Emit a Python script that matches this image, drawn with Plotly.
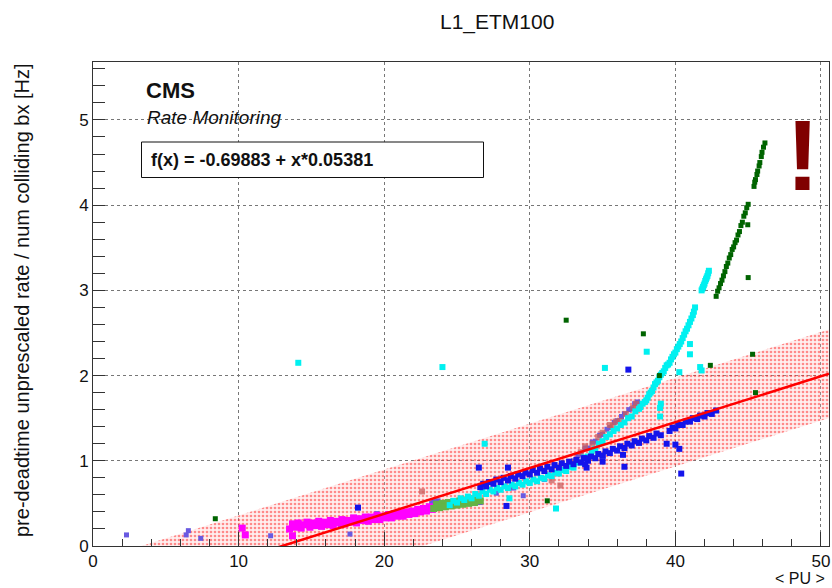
import plotly.graph_objects as go

# ---- fit result shown in the legend box ----
FIT_P0 = -0.69883
FIT_P1 = 0.05381
BAND_HALF_WIDTH = 0.52
X_MAX = 50.55
Y_MAX = 5.68

# ---- run groups: <PU> vs rate per colliding bunch ----
magenta_pu = [13.5, 13.7, 13.9, 14.1, 14.3, 14.5, 14.7, 14.9, 15.1, 15.3, 15.5, 15.7, 15.9,
              16.1, 16.3, 16.5, 16.7, 16.9, 17.1, 17.3, 17.5, 17.7, 17.9, 18.1, 18.3, 18.5,
              18.7, 18.9, 19.1, 19.3, 19.5, 19.7, 19.9, 20.1, 20.3, 20.5, 20.7, 20.9, 21.1,
              21.3, 21.5, 21.7, 21.9, 22.1, 22.3, 22.5, 22.7, 22.9, 23.1, 23.3,
              10.25, 10.46, 13.7]
magenta_rate = [0.20, 0.26, 0.22, 0.27, 0.21, 0.25, 0.28, 0.22, 0.27, 0.24, 0.29, 0.23, 0.28,
                0.25, 0.30, 0.24, 0.29, 0.27, 0.31, 0.26, 0.30, 0.28, 0.33, 0.27, 0.32, 0.30,
                0.34, 0.29, 0.34, 0.31, 0.36, 0.31, 0.35, 0.33, 0.37, 0.33, 0.38, 0.35, 0.39,
                0.35, 0.40, 0.37, 0.41, 0.38, 0.43, 0.40, 0.44, 0.41, 0.46, 0.43,
                0.21, 0.13, 0.12]

green_pu = [23.4, 23.6, 23.8, 24.0, 24.2, 24.4, 24.6, 24.8, 25.0, 25.2, 25.4, 25.6, 25.8,
            26.0, 26.2, 26.4, 26.6]
green_rate = [0.44, 0.49, 0.45, 0.50, 0.46, 0.51, 0.47, 0.52, 0.48, 0.53, 0.49, 0.54, 0.50,
              0.55, 0.51, 0.56, 0.53]

violet_pu = [2.3, 6.4, 6.55, 7.4, 12.2, 17.65, 17.0, 19.5, 21.1, 23.26, 23.7, 23.4, 24.5,
             24.7, 26.4, 26.6, 27.7, 28.6, 28.9, 29.55, 31.0, 32.3,
             33.0, 33.3, 33.5, 33.8, 34.0, 34.3, 34.5, 34.8, 35.0, 35.3, 35.5, 35.8, 36.0,
             36.3, 36.5, 36.8, 37.0, 37.2, 37.4]
violet_rate = [0.13, 0.13, 0.18, 0.09, 0.12, 0.14, 0.25, 0.38, 0.38, 0.50, 0.53, 0.52, 0.52,
               0.52, 0.52, 0.51, 0.62, 0.68, 0.68, 0.59, 0.78, 0.90,
               1.00, 1.06, 1.08, 1.15, 1.15, 1.22, 1.23, 1.30, 1.31, 1.37, 1.39, 1.45, 1.47,
               1.52, 1.55, 1.60, 1.61, 1.67, 1.69]

cyan_pu = [24.5, 24.75, 25.0, 25.25, 25.5, 25.75, 26.0, 26.25, 26.5, 26.75, 27.0, 27.25,
           27.5, 27.75, 28.0, 28.25, 28.5, 28.75, 29.0, 29.25, 29.5, 29.75, 30.0, 30.25,
           30.5, 30.75, 31.0, 31.25, 31.5, 31.75, 32.0, 32.25, 32.5, 32.75, 33.0, 33.25,
           33.5, 33.75, 34.0, 34.25, 34.5, 34.75, 35.0, 35.25, 35.5, 35.75, 36.0, 36.25,
           36.5, 36.75, 37.0, 37.25, 37.5, 37.75, 38.0, 38.2, 38.4, 38.6, 38.8, 39.0,
           39.2, 39.4, 39.6, 39.8, 40.0, 40.2, 40.4, 40.6, 40.8, 41.0, 41.2, 41.35,
           37.6, 37.9, 38.1, 38.3, 38.5, 38.7, 38.9, 39.1, 39.3, 39.5, 39.7, 39.9,
           40.1, 40.3, 40.5, 40.7, 40.9, 41.1, 41.27,
           41.8, 41.85, 41.9, 41.95, 42.0, 42.05, 42.1, 42.15, 42.2, 42.25, 42.3,
           14.1, 24.0, 26.9, 28.6, 31.8, 35.16, 38.03, 41.0, 41.0, 40.27, 41.7, 39.0,
           38.95, 38.95, 41.8]
cyan_rate = [0.48, 0.53, 0.51, 0.56, 0.54, 0.58, 0.56, 0.61, 0.59, 0.64, 0.61, 0.66,
             0.64, 0.68, 0.66, 0.70, 0.68, 0.72, 0.70, 0.74, 0.72, 0.76, 0.74, 0.78,
             0.76, 0.80, 0.79, 0.83, 0.82, 0.86, 0.85, 0.89, 0.88, 0.93, 0.92, 0.98,
             0.98, 1.04, 1.05, 1.11, 1.14, 1.20, 1.23, 1.28, 1.31, 1.35, 1.38, 1.42,
             1.45, 1.50, 1.52, 1.58, 1.61, 1.67, 1.71, 1.78, 1.82, 1.90, 1.94, 2.01,
             2.05, 2.12, 2.15, 2.22, 2.27, 2.34, 2.40, 2.48, 2.55, 2.63, 2.71, 2.80,
             1.63, 1.69, 1.74, 1.80, 1.86, 1.92, 1.98, 2.03, 2.09, 2.13, 2.19, 2.25,
             2.31, 2.37, 2.44, 2.52, 2.59, 2.67, 2.75,
             3.00, 3.02, 3.04, 3.06, 3.08, 3.11, 3.13, 3.15, 3.17, 3.20, 3.23,
             2.15, 2.10, 1.20, 0.56, 0.44, 2.09, 2.28, 2.37, 2.25, 2.04, 2.10, 1.67,
             1.52, 1.62, 2.06]

blue_pu = [26.6, 26.8, 27.0, 27.2, 27.5, 27.7, 28.0, 28.2, 28.5, 28.7, 29.0, 29.2, 29.5,
           29.7, 30.0, 30.2, 30.5, 30.7, 31.0, 31.2, 31.5, 31.7, 32.0, 32.2, 32.5, 32.7,
           33.0, 33.2, 33.5, 33.7, 34.0, 34.2, 34.5, 34.7, 35.0, 35.2, 35.5, 35.7, 36.0,
           36.2, 36.5, 36.7, 37.0, 37.2, 37.5, 37.7, 38.0, 38.2, 38.5, 38.7, 39.0,
           39.6, 39.8, 40.0, 40.2, 40.5, 40.7, 41.0, 41.2, 41.5, 41.7, 42.0, 42.2, 42.5,
           42.8,
           18.2, 26.5, 28.5, 28.4, 33.9, 33.8, 33.8, 35.0, 35.0, 36.77, 39.4, 40.0, 40.27,
           36.5, 40.4, 36.4]
blue_rate = [0.69, 0.73, 0.70, 0.75, 0.73, 0.78, 0.75, 0.80, 0.77, 0.82, 0.79, 0.84, 0.82,
             0.86, 0.84, 0.89, 0.86, 0.91, 0.88, 0.93, 0.90, 0.95, 0.92, 0.97, 0.94, 0.99,
             0.96, 1.01, 0.98, 1.03, 1.00, 1.05, 1.03, 1.08, 1.06, 1.11, 1.09, 1.14, 1.12,
             1.17, 1.15, 1.20, 1.18, 1.23, 1.21, 1.26, 1.24, 1.29, 1.27, 1.32, 1.30,
             1.35, 1.39, 1.38, 1.42, 1.42, 1.46, 1.46, 1.50, 1.49, 1.53, 1.52, 1.56, 1.55,
             1.59,
             0.45, 0.92, 0.92, 0.47, 0.92, 0.96, 1.03, 0.99, 1.06, 2.07, 1.20, 1.19, 1.14,
             0.93, 0.85, 1.07]

darkgreen_pu = [42.8, 42.9, 43.0, 43.1, 43.2, 43.3, 43.4, 43.5, 43.6, 43.7, 43.8, 43.9,
                44.0, 44.1, 44.2, 44.3, 44.4, 44.5, 44.6, 44.7, 44.8, 44.9, 45.0,
                45.4, 45.45, 45.5, 45.6, 45.65, 45.75, 45.8, 45.9, 45.95, 46.05, 46.15,
                8.4, 31.2, 32.5, 37.8, 38.9, 42.4, 44.97, 45.0, 45.3, 45.5]
darkgreen_rate = [2.93, 2.99, 3.03, 3.08, 3.12, 3.17, 3.22, 3.28, 3.32, 3.38, 3.42, 3.48,
                  3.51, 3.56, 3.59, 3.65, 3.69, 3.76, 3.80, 3.87, 3.91, 3.97, 4.01,
                  4.22, 4.27, 4.30, 4.36, 4.40, 4.46, 4.50, 4.57, 4.62, 4.68, 4.73,
                  0.32, 0.53, 2.65, 2.49, 2.00, 2.12, 3.77, 3.15, 2.25, 1.80]

brown_pu = [22.6, 31.5, 32.1, 33.0, 33.5, 33.8, 34.3, 34.7, 35.0, 35.5, 35.7, 35.9, 36.2,
            36.6, 37.1, 37.3]
brown_rate = [0.64, 0.77, 0.71, 0.98, 1.10, 1.17, 1.20, 1.28, 1.33, 1.42, 1.40, 1.46, 1.47,
              1.55, 1.62, 1.67]

series = [
    (violet_pu, violet_rate, "rgb(105,90,225)", 5),
    (magenta_pu, magenta_rate, "rgb(255,0,255)", 7),
    (green_pu, green_rate, "rgb(100,180,70)", 7),
    (brown_pu, brown_rate, "rgba(200,95,95,0.75)", 6),
    (cyan_pu, cyan_rate, "rgb(0,240,240)", 6),
    (blue_pu, blue_rate, "rgb(20,20,235)", 6),
    (darkgreen_pu, darkgreen_rate, "rgb(0,100,0)", 5),
]

fig = go.Figure()

# shaded band around the linear fit
band_x = [0.0, X_MAX]
upper = [FIT_P0 + FIT_P1 * x + BAND_HALF_WIDTH for x in band_x]
lower = [FIT_P0 + FIT_P1 * x - BAND_HALF_WIDTH for x in band_x]
fig.add_trace(go.Scatter(
    x=band_x + band_x[::-1], y=upper + lower[::-1],
    fill="toself", mode="lines", line=dict(width=0),
    fillcolor="rgba(255,150,150,0.18)",
    fillpattern=dict(shape=".", fgcolor="rgba(255,0,0,0.85)",
                     bgcolor="rgba(255,190,190,0.25)", size=4, solidity=0.35),
    hoverinfo="skip", showlegend=False,
))

for xs, ys, col, sz in series:
    fig.add_trace(go.Scatter(
        x=xs, y=ys, mode="markers",
        marker=dict(symbol="square", size=sz, color=col, line=dict(width=0)),
        showlegend=False,
    ))

# linear fit
fit_x = [0.0, X_MAX]
fig.add_trace(go.Scatter(
    x=fit_x, y=[FIT_P0 + FIT_P1 * x for x in fit_x],
    mode="lines", line=dict(color="rgb(255,0,0)", width=2.5),
    showlegend=False,
))

axis_common = dict(
    showline=True, linecolor="#333", linewidth=1, mirror=True,
    showgrid=True, gridcolor="#777", griddash="dot", gridwidth=1,
    zeroline=False, ticks="inside", tickcolor="#333",
    tickfont=dict(family="Liberation Sans, Arial, sans-serif", size=17, color="#111"),
)

fig.update_layout(
    width=832, height=588,
    margin=dict(l=93, r=3, t=62, b=42),
    paper_bgcolor="white", plot_bgcolor="white",
    font=dict(family="Liberation Sans, Arial, sans-serif", color="#111"),
    xaxis=dict(range=[0, X_MAX], dtick=10, ticklen=14,
               minor=dict(dtick=2, ticks="inside", ticklen=7, tickcolor="#333",
                          showgrid=False),
               **axis_common),
    yaxis=dict(range=[0, Y_MAX], dtick=1, ticklen=12,
               minor=dict(dtick=0.2, ticks="inside", ticklen=12, tickcolor="#333",
                          showgrid=False),
               **axis_common),
)

PX_W, PX_H, L, T = 736.0, 484.0, 93.0, 62.0


def px(xp, yp):
    """pixel position on the page -> paper coordinates"""
    return (xp - L) / PX_W, (T + PX_H - yp) / PX_H


def add_text(text, xp, yp, size, xanchor="left", angle=0, color="#111", bold=False):
    x, y = px(xp, yp)
    fig.add_annotation(
        text=f"<b>{text}</b>" if bold else text, x=x, y=y, xref="paper", yref="paper",
        xanchor=xanchor, yanchor="middle", showarrow=False, textangle=angle,
        borderpad=0,
        font=dict(family="Liberation Sans, Arial, sans-serif", size=size, color=color),
    )


add_text("L1_ETM100", 497, 22, 21, xanchor="center")
add_text("pre-deadtime unprescaled rate / num colliding bx [Hz]", 22, 300, 20,
         xanchor="center", angle=-90)
add_text("&lt; PU &gt;", 826, 578, 16, xanchor="right")
add_text("CMS", 145, 91, 22, bold=True)
add_text("<i>Rate Monitoring</i>", 146, 117, 19)

# fit result box
x0, y1 = px(141.5, 142)
x1, y0 = px(483.5, 177.5)
fig.add_shape(type="rect", xref="paper", yref="paper", x0=x0, x1=x1, y0=y0, y1=y1,
              line=dict(color="#111", width=1), fillcolor="white", layer="above")
add_text(f"f(x) = {FIT_P0:.5f} + x*{FIT_P1:.5f}", 150, 160, 18, bold=True)

# warning marker
add_text("!", 802, 155, 100, xanchor="center", color="rgb(128,0,0)", bold=True)

fig.write_html("out.html")
